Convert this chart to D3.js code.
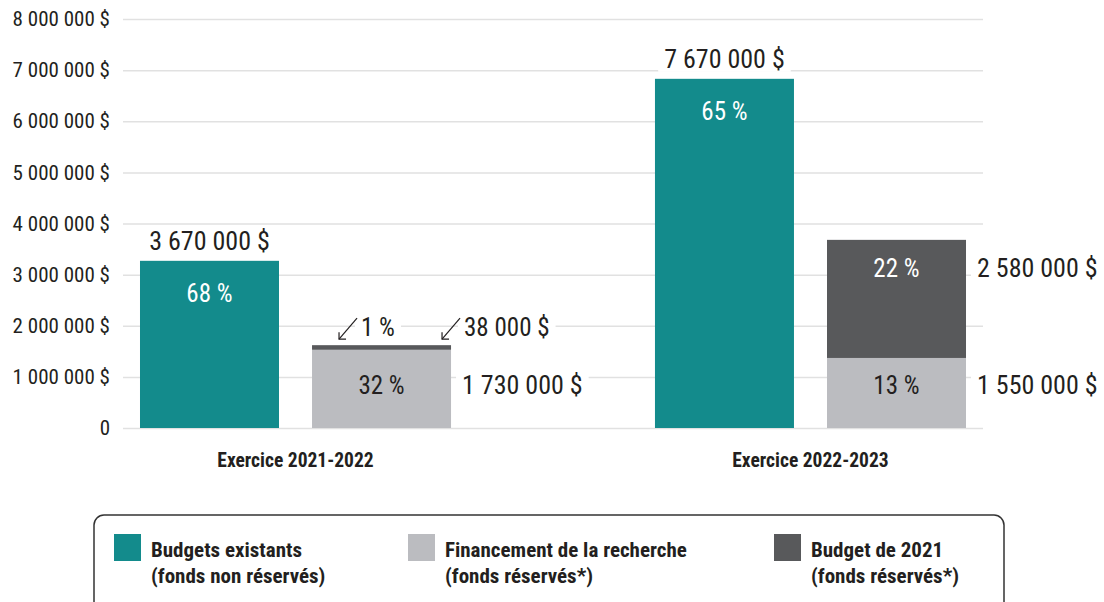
<!DOCTYPE html>
<html>
<head>
<meta charset="utf-8">
<script src="https://cdn.jsdelivr.net/npm/d3@7"></script>
<style>
  body { margin: 0; background: #fff; }
  svg text { font-family: "Roboto Condensed", "Liberation Sans Narrow", "DejaVu Sans Condensed", sans-serif; fill: #231f20; }
</style>
</head>
<body>
<div id="chart-area"></div>
<script>
var width = 1104,
    height = 602;

// data (bar heights, label texts as printed)
var years = ["Exercice 2021-2022", "Exercice 2022-2023"];
var existants = [3270000, 6830000];      // Budgets existants
var recherche = [1530000, 1370000];      // Financement de la recherche
var budget2021 = [90000, 2310000];       // Budget de 2021
var totalLabels = ["3 670 000 $", "7 670 000 $"];
var existantsPct = ["68 %", "65 %"];
var rechercheLabels = ["1 730 000 $", "1 550 000 $"];
var recherchePct = ["32 %", "13 %"];
var budgetLabels = ["38 000 $", "2 580 000 $"];
var budgetPct = ["1 %", "22 %"];
var yTicks = [0, 1000000, 2000000, 3000000, 4000000, 5000000, 6000000, 7000000, 8000000];
var legendItems = [
  ["Budgets existants", "(fonds non réservés)"],
  ["Financement de la recherche", "(fonds réservés*)"],
  ["Budget de 2021", "(fonds réservés*)"]
];
var colors = ["#138b8c", "#bbbcc0", "#58595b"];

var svg = d3.select("#chart-area").append("svg")
    .attr("width", width)
    .attr("height", height);

var x0 = d3.scaleBand()
    .domain(years)
    .range([123, 983])
    .paddingInner(0.396)
    .paddingOuter(0.033);

var x1 = d3.scaleBand()
    .domain(["a", "b"])
    .range([0, x0.bandwidth()])
    .paddingInner(0.192);

var y = d3.scaleLinear()
    .domain([0, 8000000])
    .range([428, 19]);

var fmt = function(d) {
  if (d === 0) return "0";
  return d3.format(",")(d).replace(/,/g, " ") + " $";
};

// grid + y labels
var yAxis = d3.axisLeft(y)
    .tickValues(yTicks)
    .tickSize(-(983 - 123))
    .tickPadding(13)
    .tickFormat(fmt);

var gy = svg.append("g")
    .attr("transform", "translate(123,0)")
    .call(yAxis);
gy.select(".domain").remove();
gy.selectAll(".tick line").attr("stroke", "#e1e1e1").attr("stroke-width", 1.5);
gy.selectAll(".tick text").style("font-size", "21px").attr("fill", "#231f20");

// label background helper (hides gridline behind outside labels)
function bgText(g, tx, ty, txt, size, anchor) {
  var t = g.append("text")
      .attr("x", tx).attr("y", ty)
      .attr("text-anchor", anchor)
      .style("font-size", size + "px")
      .text(txt);
  var b = t.node().getBBox();
  g.insert("rect", "text")
      .attr("x", b.x - 6).attr("y", b.y + 2)
      .attr("width", b.width + 12).attr("height", b.height - 4)
      .attr("fill", "#fff");
  return t;
}

var groups = svg.selectAll(".year")
    .data(years)
    .enter().append("g")
    .attr("class", "year")
    .attr("transform", function(d) { return "translate(" + x0(d) + ",0)"; });

// teal bars
groups.append("rect")
    .attr("x", x1("a"))
    .attr("y", function(d, i) { return y(existants[i]); })
    .attr("width", x1.bandwidth())
    .attr("height", function(d, i) { return y(0) - y(existants[i]); })
    .attr("fill", colors[0]);

// stacked grey bars
groups.append("rect")
    .attr("x", x1("b"))
    .attr("y", function(d, i) { return y(recherche[i]); })
    .attr("width", x1.bandwidth())
    .attr("height", function(d, i) { return y(0) - y(recherche[i]); })
    .attr("fill", colors[1]);

groups.append("rect")
    .attr("x", x1("b"))
    .attr("y", function(d, i) { return y(recherche[i] + budget2021[i]); })
    .attr("width", x1.bandwidth())
    .attr("height", function(d, i) { return y(recherche[i]) - y(recherche[i] + budget2021[i]); })
    .attr("fill", colors[2]);

// labels
groups.each(function(d, i) {
  var g = d3.select(this);
  var ca = x1("a") + x1.bandwidth() / 2;
  var cb = x1("b") + x1.bandwidth() / 2;
  var right = x1("b") + x1.bandwidth() + 11;

  bgText(g, ca, y(existants[i]) - 11, totalLabels[i], 26, "middle");

  g.append("text")
      .attr("x", ca).attr("y", y(existants[i]) + 41)
      .attr("text-anchor", "middle")
      .style("font-size", "25px")
      .style("fill", "#fff")
      .text(existantsPct[i]);

  // category label
  g.append("text")
      .attr("x", x0.bandwidth() / 2).attr("y", 467)
      .attr("text-anchor", "middle")
      .style("font-size", "19.5px")
      .style("font-weight", "bold")
      .text(d);

  var greyBase = y(0) - 34;
  g.append("text")
      .attr("x", cb).attr("y", greyBase)
      .attr("text-anchor", "middle")
      .style("font-size", "25px")
      .text(recherchePct[i]);
  bgText(g, right, greyBase, rechercheLabels[i], 26, "start");

  if (budget2021[i] > 500000) {
    g.append("text")
        .attr("x", cb).attr("y", y(recherche[i] + budget2021[i]) + 37)
        .attr("text-anchor", "middle")
        .style("font-size", "25px")
        .style("fill", "#fff")
        .text(budgetPct[i]);
    bgText(g, right, y(recherche[i] + budget2021[i]) + 37, budgetLabels[i], 26, "start");
  } else {
    // small slice: arrows pointing down to the thin dark band
    var top = y(recherche[i] + budget2021[i]);
    var arrows = [x1("b") + 27, x1("b") + x1.bandwidth() - 9];
    var texts = [budgetPct[i], budgetLabels[i]];
    arrows.forEach(function(ax, k) {
      bgText(g, ax + 22, top - 9, texts[k], 25, "start");
      g.append("line")
          .attr("x1", ax + 18).attr("y1", top - 27)
          .attr("x2", ax).attr("y2", top - 6)
          .attr("stroke", "#231f20").attr("stroke-width", 1.2);
      g.append("path")
          .attr("d", "M" + (ax + 7) + "," + (top - 6) + " L" + ax + "," + (top - 6) + " L" + ax + "," + (top - 13))
          .attr("fill", "none")
          .attr("stroke", "#231f20").attr("stroke-width", 1.2);
    });
  }
});

// legend
var legend = svg.append("g");
legend.append("rect")
    .attr("x", 94).attr("y", 515)
    .attr("width", 910).attr("height", 110)
    .attr("rx", 10)
    .attr("fill", "none")
    .attr("stroke", "#333")
    .attr("stroke-width", 1.5);

var legendX = [114, 408, 774];
legendItems.forEach(function(item, i) {
  legend.append("rect")
      .attr("x", legendX[i]).attr("y", 534)
      .attr("width", 27).attr("height", 27)
      .attr("fill", colors[i]);
  item.forEach(function(line, k) {
    legend.append("text")
        .attr("x", legendX[i] + 37).attr("y", 557 + k * 26)
        .style("font-size", "21px")
        .style("font-weight", "bold")
        .text(line);
  });
});
</script>
</body>
</html>
